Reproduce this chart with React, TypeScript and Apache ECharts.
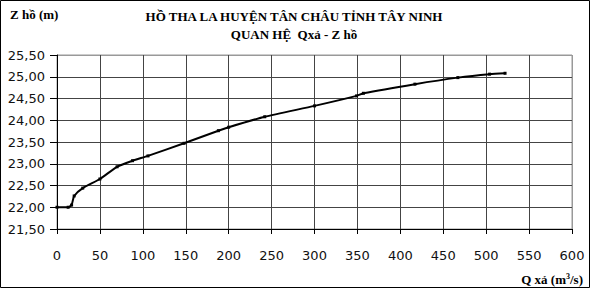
import React, { useEffect, useRef } from "react";
import * as echarts from "echarts";

const qValues = [0, 13, 17, 20, 30, 50, 70, 88, 106, 148, 188, 200, 242, 300, 349, 357, 417, 467, 504, 522];
const zValues = [22.0, 22.0, 22.05, 22.26, 22.44, 22.65, 22.93, 23.07, 23.18, 23.47, 23.76, 23.84, 24.08, 24.33, 24.56, 24.62, 24.83, 24.98, 25.06, 25.08];

const titleLine1 = "HỒ THA LA HUYỆN TÂN CHÂU TỈNH TÂY NINH";
const titleLine2 = "QUAN HỆ  Qxả - Z hồ";
const yName = "Z hồ (m)";

export default function App() {
  const ref = useRef<HTMLDivElement>(null);
  useEffect(() => {
    document.body.style.margin = "0";
    if (!ref.current) return;
    const chart = echarts.init(ref.current, null, { renderer: "svg" });
    const yGridColors = ["#444", "#444", "#444", "#444", "#444", "#444", "#444", "#444", "#999"];
    const xGridColors = Array.from({ length: 13 }, (_, i) => (i === 12 ? "#999" : "#444"));
    const serifBold = { fontFamily: "Liberation Serif", fontWeight: "bold", fontSize: 13, color: "#000" };
    chart.setOption({
      animation: false,
      backgroundColor: "#fff",
      grid: { left: 57, right: 20, top: 55, bottom: 62, show: true, borderColor: "#999", borderWidth: 1 },
      title: [
        { text: titleLine1, left: 289, top: 5, textAlign: "center", textStyle: serifBold },
        { text: titleLine2, left: 289, top: 23, textAlign: "center", textStyle: serifBold },
      ],
      graphic: [
        {
          type: "rect",
          shape: { x: 0.5, y: 0.5, width: 589, height: 287 },
          style: { fill: "none", stroke: "#000", lineWidth: 1 },
          silent: true,
        },
        {
          type: "text",
          left: 10,
          top: 8,
          style: { text: yName, font: "bold 13px 'Liberation Serif'", fill: "#000" },
        },
        {
          type: "text",
          right: 9,
          top: 272,
          style: {
            rich: {
              a: { fontFamily: "Liberation Serif", fontWeight: "bold", fontSize: 13, fill: "#000" },
              s: { fontFamily: "Liberation Serif", fontWeight: "bold", fontSize: 8, verticalAlign: "top", padding: [0, 0, 6, 0], fill: "#000" },
            },
            text: "{a|Q xả (m}{s|3}{a|/s)}",
          },
        },
      ],
      xAxis: {
        type: "value",
        min: 0,
        max: 600,
        interval: 50,
        axisLine: { show: true, onZero: false, lineStyle: { color: "#000", width: 1 } },
        axisTick: { show: true, length: 5, inside: false, lineStyle: { color: "#000" } },
        axisLabel: { margin: 20, fontFamily: "DejaVu Sans", fontSize: 13, color: "#111" },
        splitLine: { show: true, lineStyle: { color: xGridColors, width: 1 } },
      },
      yAxis: {
        type: "value",
        min: 21.5,
        max: 25.5,
        interval: 0.5,
        axisLine: { show: true, onZero: false, lineStyle: { color: "#000", width: 1 } },
        axisTick: { show: true, length: 7, lineStyle: { color: "#000" } },
        axisLabel: {
          margin: 12,
          fontFamily: "DejaVu Sans",
          fontSize: 13,
          color: "#111",
          formatter: (v: number) => v.toFixed(2).replace(".", ","),
        },
        splitLine: { show: true, lineStyle: { color: yGridColors, width: 1 } },
      },
      series: [
        {
          type: "line",
          data: qValues.map((q, i) => [q, zValues[i]]),
          symbol: "rect",
          symbolSize: 3,
          showSymbol: true,
          smooth: 0.2,
          lineStyle: { color: "#000", width: 2 },
          itemStyle: { color: "#000" },
        },
      ],
    });
    return () => chart.dispose();
  }, []);
  return <div ref={ref} style={{ width: 592, height: 291 }} />;
}
